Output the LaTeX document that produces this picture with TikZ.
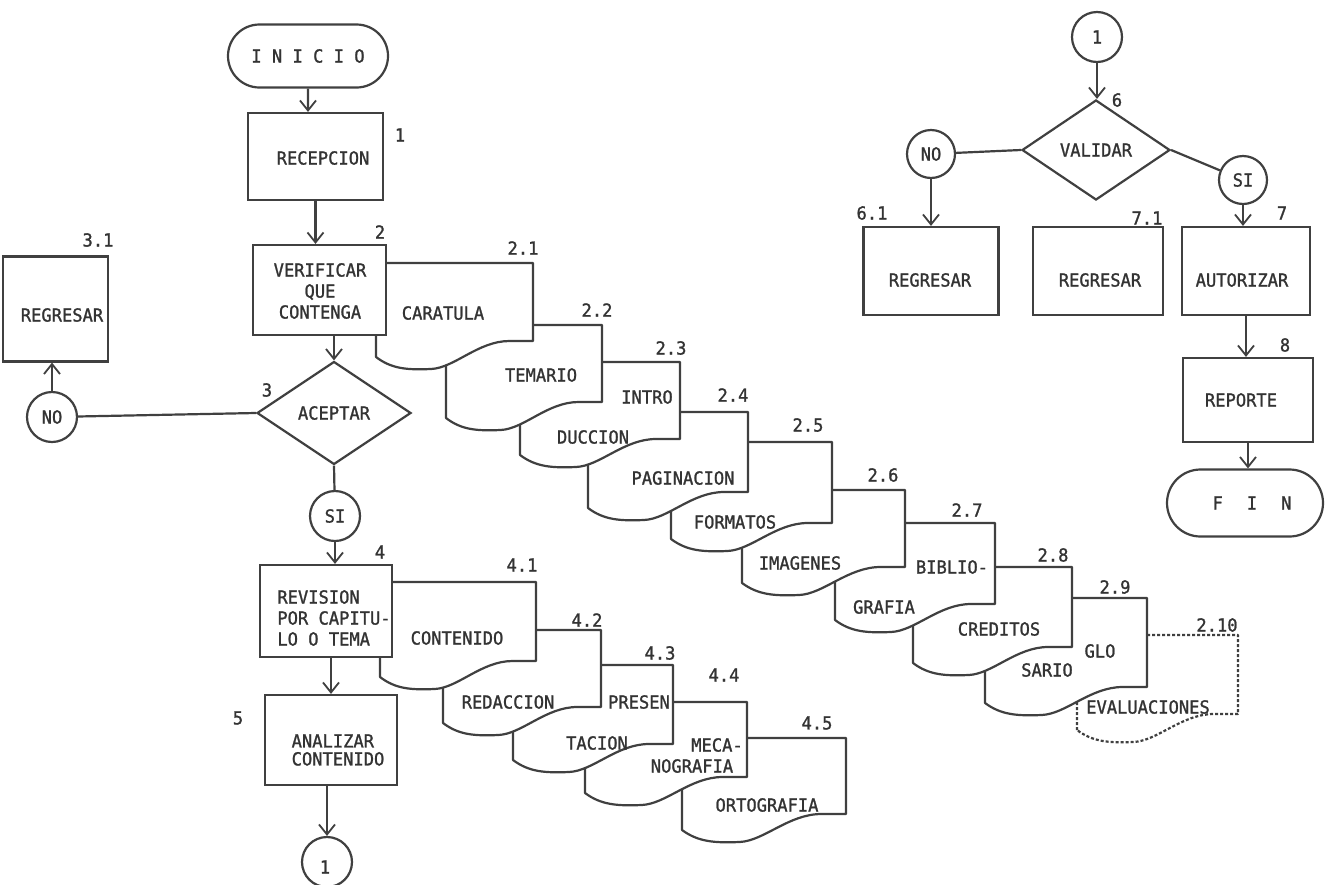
\documentclass[tikz,border=0pt]{standalone}
\usepackage{fontspec}
\setmainfont{DejaVu Sans Mono}[FakeStretch=0.95,FakeBold=1.2]
\usetikzlibrary{arrows.meta,shapes.geometric,shapes.misc}

% Document symbol with a wavy bottom edge: [style]{left}{top}{right}{bottom-left}
\newcommand{\docshape}[5][]{%
  \pgfmathsetmacro{\docW}{#4-#2}%
  \pgfmathsetmacro{\docXa}{#2+0.1*\docW}%
  \pgfmathsetmacro{\docXb}{#2+0.2*\docW}%
  \pgfmathsetmacro{\docXc}{#2+0.35*\docW}%
  \pgfmathsetmacro{\docXd}{#2+0.5*\docW}%
  \pgfmathsetmacro{\docXe}{#2+0.65*\docW}%
  \pgfmathsetmacro{\docXf}{#2+0.85*\docW}%
  \pgfmathsetmacro{\docYr}{#5-16}%
  \pgfmathsetmacro{\docYa}{#5+12}%
  \pgfmathsetmacro{\docYb}{#5+13}%
  \pgfmathsetmacro{\docYd}{#5+11}%
  \filldraw[docline,#1] (#2,#5) -- (#2,#3) -- (#4,#3) -- (#4,\docYr) -- (\docXf,\docYr)
    .. controls (\docXe,\docYr) and (\docXd,\docYd) .. (\docXc,\docYa)
    .. controls (\docXb,\docYb) and (\docXa,\docYa) .. (#2,#5) -- cycle;
}

\begin{document}
\begin{tikzpicture}[x=1pt,y=-1pt,
  every node/.style={font=\fontsize{18}{21}\selectfont, text=black!80},
  ink/.style={line width=2.2pt, draw=black!75},
  box/.style={ink, rectangle, fill=white, inner sep=0pt},
  term/.style={ink, rounded rectangle, fill=white, inner sep=0pt},
  decision/.style={ink, diamond, fill=white, inner sep=0pt},
  conn/.style={ink, circle, fill=white, inner sep=0pt, minimum size=50pt},
  docline/.style={ink, fill=white, line join=round},
  flow/.style={ink, -{Straight Barb[length=10pt,width=16pt,line width=1.8pt]}},
  link/.style={ink},
  txt/.style={inner sep=0pt, align=center},
  ltxt/.style={inner sep=0pt, align=left},
  num/.style={inner sep=0pt},
]
\useasboundingbox (0,0) rectangle (1325,884);
\fill[white] (0,0) rectangle (1325,884);

% ---- stacked documents checked under step 2 (back to front)
\docshape[densely dashed]{1077}{635}{1238}{730}
\docshape{985}{598}{1147}{703}
\docshape{913}{567}{1072}{663}
\docshape{835}{523}{995}{620}
\docshape{742}{490}{905}{583}
\docshape{671}{442}{832}{539}
\docshape{588}{412}{748}{508}
\docshape{520}{362}{680}{455}
\docshape{446}{325}{602}{418}
\docshape{376}{263}{533}{357}

% ---- stacked documents reviewed under step 4 (back to front)
\docshape{682}{738}{846}{830}
\docshape{585}{702}{747}{793}
\docshape{513}{665}{673}{760}
\docshape{443}{630}{601}{723}
\docshape{380}{582}{536}{677}

% ---- main column
\node[term, minimum width=160pt, minimum height=63pt] (inicio) at (308,56) {I N I C I O};
\node[box, minimum width=135pt, minimum height=87pt] (recep) at (315.5,156.5) {};
\node[txt] (recep-t) at (323,158) {RECEPCION};
\node[box, minimum width=133pt, minimum height=90pt] (verif) at (319.5,290) {};
\node[txt] (verif-t) at (320,291) {VERIFICAR\\QUE\\CONTENGA};
\node[decision, minimum width=154pt, minimum height=103pt] (acep) at (334,413) {ACEPTAR};
\node[conn] (no1) at (52,417) {NO};
\node[box, minimum width=105pt, minimum height=105pt] (reg31) at (55.5,309) {};
\node[txt] (reg31-t) at (62,315) {REGRESAR};
\node[conn] (si1) at (335,516) {SI};
\node[box, minimum width=132pt, minimum height=92pt] (rev) at (326,611) {};
\node[ltxt] (rev-t) at (334,618) {REVISION\\POR CAPITU-\\LO O TEMA};
\node[box, minimum width=132pt, minimum height=90pt] (anal) at (331,740) {};
\node[ltxt, font=\fontsize{18}{18}\selectfont] (anal-t) at (338,750) {ANALIZAR\\CONTENIDO};
\node[conn] (c1b) at (327,862) {};
\node[txt] (c1b-t) at (325,867) {1};

% ---- second part
\node[conn] (c1t) at (1097,37) {1};
\node[decision, minimum width=148pt, minimum height=100pt] (valid) at (1096,150) {VALIDAR};
\node[conn, minimum size=48pt] (no2) at (931,154) {NO};
\node[conn, minimum size=48pt] (si2) at (1243,180) {SI};
\node[box, minimum width=135pt, minimum height=88pt] (reg61) at (931,271) {};
\node[txt] (reg61-t) at (930,280) {REGRESAR};
\node[box, minimum width=130pt, minimum height=88pt] (reg71) at (1098,271) {};
\node[txt] (reg71-t) at (1100,280) {REGRESAR};
\node[box, minimum width=128pt, minimum height=88pt] (autor) at (1246,271) {};
\node[txt] (autor-t) at (1242,280) {AUTORIZAR};
\node[box, minimum width=130pt, minimum height=84pt] (repor) at (1248,400) {};
\node[txt] (repor-t) at (1241,400) {REPORTE};
\node[term, minimum width=156pt, minimum height=67pt] (fin) at (1245,503) {};
\node[txt] (fin-t) at (1252,503) {F\hspace{24pt}I\hspace{24pt}N};

% ---- connectors
\draw[flow] (inicio) -- (inicio |- recep.north);
\draw[flow] (recep) -- (recep |- verif.north);
\draw[flow] (acep.north |- verif.south) -- (acep.north);
\draw[link] (acep.west) -- (no1);
\draw[flow] (no1) -- (no1 |- reg31.south);
\draw[link] (acep.south) -- (si1);
\draw[flow] (si1) -- (si1 |- rev.north);
\draw[flow] (anal.north |- rev.south) -- (anal.north);
\draw[flow] (c1b.north |- anal.south) -- (c1b.north);

\draw[flow] (c1t) -- (c1t |- valid.north);
\draw[link] (valid.west) -- (no2);
\draw[link] (valid.east) -- (si2);
\draw[flow] (no2) -- (no2 |- reg61.north);
\draw[flow] (si2) -- (si2 |- autor.north);
\draw[flow] (autor) -- (autor |- repor.north);
\draw[flow] (repor) -- (repor |- fin.north);

% ---- step numbers
\node[num] (n1) at (400,135) {1};
\node[num] (n2) at (380,232) {2};
\node[num] (n3) at (267,390) {3};
\node[num] (n31) at (98,240) {3.1};
\node[num] (n4) at (380,552) {4};
\node[num] (n5) at (238,718) {5};
\node[num] (n6) at (1117,100) {6};
\node[num] (n61) at (872,213) {6.1};
\node[num] (n71) at (1147,218) {7.1};
\node[num] (n7) at (1282,213) {7};
\node[num] (n8) at (1285,345) {8};

\node[num] (d21) at (523,248) {2.1};
\node[num] (d22) at (597,310) {2.2};
\node[num] (d23) at (671,348) {2.3};
\node[num] (d24) at (733,395) {2.4};
\node[num] (d25) at (808,425) {2.5};
\node[num] (d26) at (883,475) {2.6};
\node[num] (d27) at (967,510) {2.7};
\node[num] (d28) at (1053,555) {2.8};
\node[num] (d29) at (1115,587) {2.9};
\node[num] (d210) at (1217,625) {2.10};
\node[num] (d41) at (522,565) {4.1};
\node[num] (d42) at (587,620) {4.2};
\node[num] (d43) at (660,653) {4.3};
\node[num] (d44) at (724,675) {4.4};
\node[num] (d45) at (817,723) {4.5};

% ---- document contents
\node[txt] (t21) at (443,313) {CARATULA};
\node[txt] (t22) at (541,375) {TEMARIO};
\node[txt] (t23a) at (647,397) {INTRO};
\node[txt] (t23b) at (593,437) {DUCCION};
\node[txt] (t24) at (683,478) {PAGINACION};
\node[txt] (t25) at (735,522) {FORMATOS};
\node[txt] (t26) at (800,563) {IMAGENES};
\node[txt] (t27a) at (952,567) {BIBLIO-};
\node[txt] (t27b) at (884,607) {GRAFIA};
\node[txt] (t28) at (999,629) {CREDITOS};
\node[txt] (t29a) at (1100,651) {GLO};
\node[txt] (t29b) at (1047,670) {SARIO};
\node[txt] (t210) at (1148,707) {EVALUACIONES};
\node[txt] (t41) at (457,638) {CONTENIDO};
\node[txt] (t42) at (508,702) {REDACCION};
\node[txt] (t43a) at (639,702) {PRESEN};
\node[txt] (t43b) at (597,743) {TACION};
\node[txt] (t44a) at (717,745) {MECA-};
\node[txt] (t44b) at (692,766) {NOGRAFIA};
\node[txt] (t45) at (767,805) {ORTOGRAFIA};
\end{tikzpicture}
\end{document}
